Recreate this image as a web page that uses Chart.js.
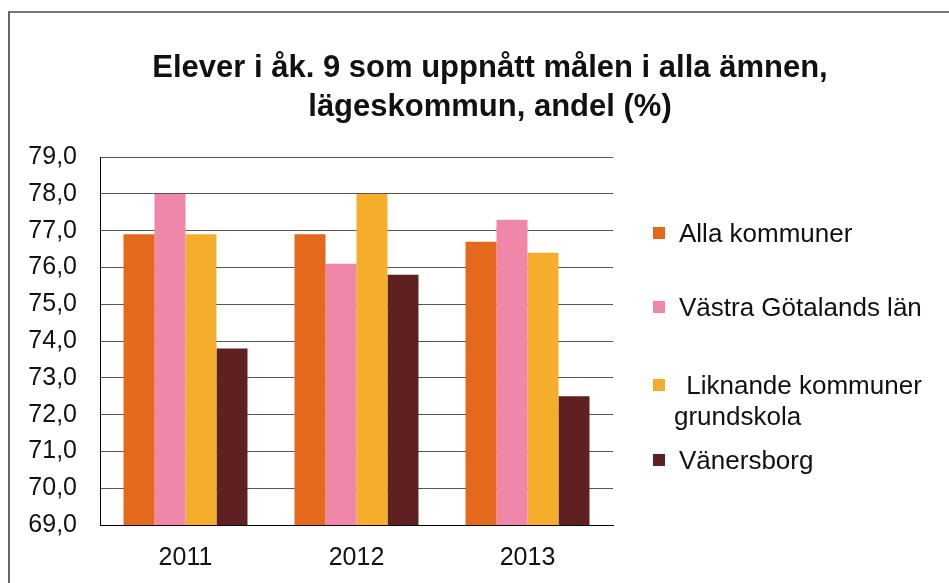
<!DOCTYPE html>
<html>
<head>
<meta charset="utf-8">
<script src="https://cdn.jsdelivr.net/npm/chart.js@4.4.0/dist/chart.umd.min.js"></script>
<style>
    body { margin: 0; background: #fff; }
    #wrap { position: relative; width: 949px; height: 583px; overflow: hidden; font-family: "Liberation Sans", Arial, sans-serif; }
    #frame { position: absolute; left: 8px; top: 11px; width: 1000px; height: 700px; border-left: 2px solid #666; border-top: 2px solid #777; }
    canvas { position: absolute; left: 0; top: 0; }
    .item { position: absolute; left: 653px; font-size: 26px; color: #111; line-height: 31px; }
    .item .box { position: absolute; left: 0; top: 9px; width: 12px; height: 12px; }
    .item .txt { position: absolute; left: 26px; white-space: nowrap; }
</style>
</head>
<body>
<div id="wrap">
    <div id="frame"></div>
    <canvas id="myChart" width="949" height="583"></canvas>
</div>
<script>
const years = ['2011', '2012', '2013'];
const allaKommuner = [76.9, 76.9, 76.7];
const vastraGotaland = [78.0, 76.1, 77.3];
const liknandeKommuner = [76.9, 78.0, 76.4];
const vanersborg = [73.8, 75.8, 72.5];
const yTicks = [69, 70, 71, 72, 73, 74, 75, 76, 77, 78, 79];

const seriesNames = ['Alla kommuner', 'Västra Götalands län', 'Liknande kommuner grundskola', 'Vänersborg'];
const seriesColors = ['#E5691C', '#EE87A8', '#F4AE2C', '#5E2020'];

let ctx = document.getElementById('myChart').getContext('2d');

const datasets = [allaKommuner, vastraGotaland, liknandeKommuner, vanersborg].map((values, i) => ({
    label: seriesNames[i],
    data: values,
    backgroundColor: seriesColors[i],
    borderWidth: 0,
    categoryPercentage: 0.725,
    barPercentage: 1.0
}));

let chart = new Chart(ctx, {
    type: 'bar',
    data: {
        labels: years,
        datasets: datasets
    },
    options: {
        responsive: false,
        animation: false,
        layout: {
            // uneven sides so the title centres where the original has it
            padding: { left: 20, right: -11, top: 16, bottom: 10 }
        },
        plugins: {
            legend: { display: false },
            tooltip: { enabled: false },
            title: {
                display: true,
                text: ['Elever i åk. 9 som uppnått målen i alla ämnen,', 'lägeskommun, andel (%)'],
                color: '#111',
                font: { family: '"Liberation Sans", Arial, sans-serif', size: 31, weight: 'bold', lineHeight: 1.26 },
                padding: { top: 33, bottom: 30 }
            }
        },
        scales: {
            x: {
                grid: { display: false },
                border: { display: true, color: '#000', width: 1 },
                ticks: {
                    color: '#111',
                    padding: 10,
                    font: { family: '"Liberation Sans", Arial, sans-serif', size: 25 }
                },
                afterFit: scale => { scale.height = 48; }
            },
            y: {
                min: 69,
                max: 79,
                afterBuildTicks: scale => { scale.ticks = yTicks.map(v => ({ value: v })); },
                grid: { color: '#555', lineWidth: 1, drawTicks: false },
                border: { display: true, color: '#000', width: 1 },
                ticks: {
                    color: '#111',
                    padding: 23,
                    font: { family: '"Liberation Sans", Arial, sans-serif', size: 25 },
                    callback: value => value.toFixed(1).replace('.', ',')
                },
                afterFit: scale => { scale.width = 80; }
            },
            // empty axis that reserves room for the legend on the right
            spacer: {
                type: 'linear',
                position: 'right',
                grid: { display: false },
                border: { display: false },
                ticks: { display: false },
                afterFit: scale => { scale.width = 347; }
            }
        }
    }
});

// legend drawn as html next to the chart
const legendTops = [218, 292, 370, 445];
const wrap = document.getElementById('wrap');
seriesNames.forEach((name, i) => {
    const item = document.createElement('div');
    item.className = 'item';
    item.style.top = legendTops[i] + 'px';
    const box = document.createElement('div');
    box.className = 'box';
    box.style.background = seriesColors[i];
    const txt = document.createElement('div');
    txt.className = 'txt';
    if (i === 2) {
        txt.innerHTML = '&nbsp;Liknande kommuner<br><span style="margin-left:-5px">grundskola</span>';
    } else {
        txt.textContent = name;
    }
    item.appendChild(box);
    item.appendChild(txt);
    wrap.appendChild(item);
});
</script>
</body>
</html>
